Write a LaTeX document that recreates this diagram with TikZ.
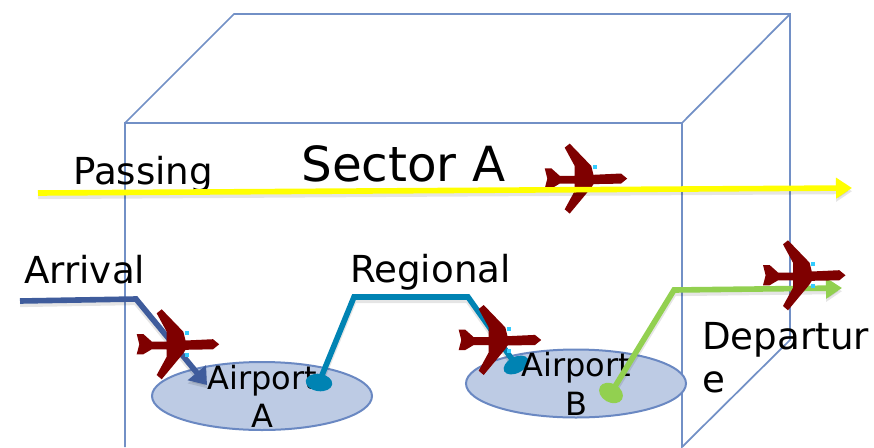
\documentclass[tikz,border=0pt]{standalone}
\usepackage{fontspec}
\setmainfont{DejaVu Sans}
\usetikzlibrary{arrows.meta,shapes.geometric}
\definecolor{cubeblue}{HTML}{7290C6}
\definecolor{ellfill}{HTML}{BDCBE4}
\definecolor{ellline}{HTML}{6A88C2}
\definecolor{planered}{HTML}{7F0000}
\definecolor{dotblue}{HTML}{33CCFF}
\definecolor{arrblue}{HTML}{3F5C9C}
\definecolor{tealline}{HTML}{0083B3}
\definecolor{greenline}{HTML}{92D050}
\definecolor{yellowline}{HTML}{FFFF00}
\tikzset{
  cubeline/.style={draw=cubeblue,line width=1.3pt},
  airport/.style={ellipse,draw=ellline,fill=ellfill,line width=1.5pt,minimum width=165pt,minimum height=51pt,inner sep=0pt},
  lab/.style={anchor=base west,inner sep=0pt,text=black},
  labc/.style={anchor=base,inner sep=0pt,text=black},
  route/.style={line width=4.2pt,line join=miter,preaction={draw=black,opacity=.1,line width=4.4pt,transform canvas={yshift=-2.4pt}}},
  endoval/.style={ellipse,inner sep=0pt},
  plane/.pic={
    \fill[planered] (-50.3,1) -- (-43.7,1) -- (-35.3,8.5) -- (-20.3,8.5) -- (-20.3,-1.3) -- (-30.3,-19.7) -- (-25.3,-23.7) -- (-3.7,-1.3) -- (-1.5,7.5) -- (26,6.2) -- (32.2,11.3) -- (26,16.3) -- (-1.5,16.8) -- (-3.7,20.3) -- (-25.3,46.3) -- (-30.3,42) -- (-20.3,23.7) -- (-20.3,16.3) -- (-35.3,16.3) -- (-43.7,21.3) -- (-50.3,21.3) -- (-47.7,11.3) -- cycle;
    \fill[dotblue] (-2,-2) rectangle (2,2);
    \fill[dotblue] (-2,20) rectangle (2,24);
  }
}
\begin{document}
\begin{tikzpicture}[x=0.75pt,y=-0.75pt]
\useasboundingbox (0,0) rectangle (874,447);
% cube
\coordinate (fbl) at (125,447);
\coordinate (ftl) at (125,123);
\coordinate (ftr) at (682,123);
\coordinate (fbr) at (682,447);
\coordinate (btl) at (234,14);
\coordinate (btr) at (790,14);
\coordinate (bbr) at (790,340);
\draw[cubeline] (fbl) -- (ftl) -- (ftr) -- (fbr) -- (bbr) -- (btr) -- (btl) -- (ftl);
\draw[cubeline] (ftr) -- (btr);
% airport A
\node[airport] (airA) at (262,396) {};
\node[labc,font=\fontsize{24}{24}\selectfont] (txtA1) at (262,389) {Airport};
\node[labc,font=\fontsize{24}{24}\selectfont] (txtA2) at (262,427) {A};
% airport B
\node[airport] (airB) at (576,383.5) {};
% plane 1 and other labels
\pic at (595,167.3) {plane};
\node[lab,font=\fontsize{36.3}{36}\selectfont] (sector) at (301,181) {Sector A};
\node[lab,font=\fontsize{27.9}{28}\selectfont] (passing) at (73,184) {Passing};
\node[lab,font=\fontsize{27.9}{28}\selectfont] (arrival) at (24,283) {Arrival};
\node[lab,font=\fontsize{27.9}{28}\selectfont] (regional) at (350,282) {Regional};
\node[lab,font=\fontsize{27.9}{28}\selectfont] (dep1) at (702,349) {Departur};
\node[lab,font=\fontsize{27.9}{28}\selectfont] (dep2) at (702,392) {e};
% passing
\coordinate (pS) at (38,193);
\coordinate (pE) at (852,188);
\draw[route,draw=yellowline,-{Triangle[length=12pt,width=15pt]}] (pS) -- (pE);
% arrival
\coordinate (aS) at (20,301);
\coordinate (aM) at (136,299);
\coordinate (aE) at (207,385);
\draw[route,draw=arrblue,-{Triangle[length=12pt,width=17pt]}] (aS) -- (aM) -- (aE);
% regional
\coordinate (ovAc) at (319,382.5);
\coordinate (ovBc) at (516,365);
\coordinate (rM1) at (354,297);
\coordinate (rM2) at (468,297);
\draw[route,draw=tealline] (ovAc) -- (rM1) -- (rM2) -- (ovBc);
\node[endoval,fill=tealline,minimum width=20pt,minimum height=13pt,rotate=-8] (ovA) at (ovAc) {};
\node[endoval,fill=tealline,minimum width=20pt,minimum height=12pt,rotate=28] (ovB) at (ovBc) {};
\node[labc,font=\fontsize{24}{24}\selectfont] (txtB1) at (576,376) {Airport};
\node[labc,font=\fontsize{24}{24}\selectfont] (txtB2) at (576,415) {B};
% planes
\pic at (187,333) {plane};
\pic at (509,328.7) {plane};
% departure
\coordinate (ovCc) at (611,393);
\coordinate (dM) at (674,290);
\coordinate (dE) at (842,288);
\draw[route,draw=greenline,-{Triangle[length=12pt,width=15pt]}] (ovCc) -- (dM) -- (dE);
\node[endoval,fill=greenline,minimum width=19pt,minimum height=14pt,rotate=-30] (ovC) at (ovCc) {};
\pic at (813.3,264) {plane};
\end{tikzpicture}
\end{document}
